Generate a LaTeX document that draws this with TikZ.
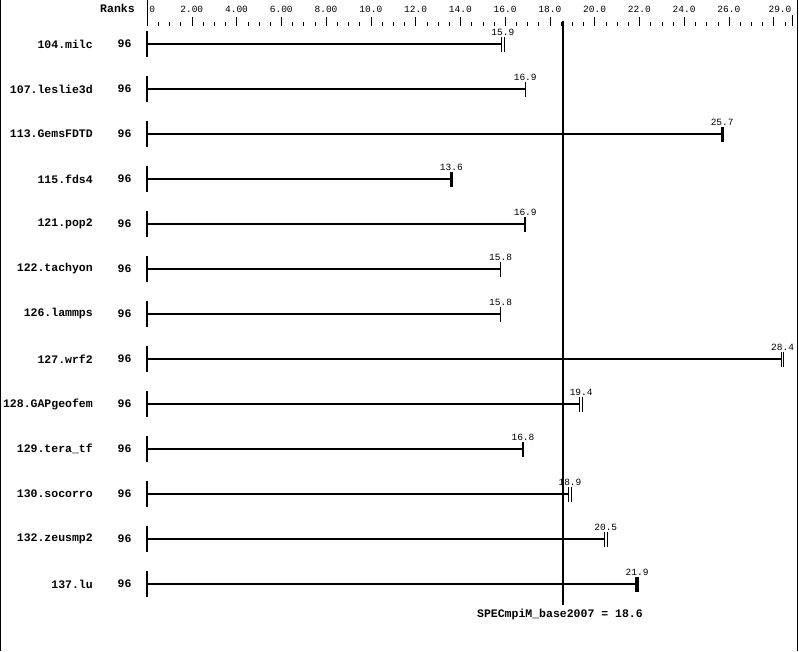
\documentclass[tikz,border=0pt]{standalone}
\usepackage{fontspec}
\setmonofont{Liberation Mono}
\tikzset{
  bench/.style={anchor=east, inner sep=0pt, font=\ttfamily\bfseries\fontsize{11.5}{12}\selectfont},
  ranks/.style={inner sep=0pt, font=\ttfamily\bfseries\fontsize{11.5}{12}\selectfont},
  val/.style={anchor=base, inner sep=0pt, font=\ttfamily\fontsize{9.5}{10}\selectfont},
  bar/.style={line width=2pt},
  tickone/.style={line width=1.1pt},
  tickmid/.style={line width=2.3pt},
  tickfat/.style={line width=3.3pt},
  tickdbl/.style={double, double distance=1.6pt, line width=1pt},
}
\begin{document}
\begin{tikzpicture}[x=1pt, y=-1pt]
   \useasboundingbox (0,0) rectangle (799,651);
   \fill[white] (0,0) rectangle (799,651);
   \draw[line width=1pt] (0.5,0) -- (0.5,651);
   \draw[line width=1pt] (797.5,0) -- (797.5,651);
   \node[ranks] (ranks) at (117.5,8) {Ranks};
   % benchmark names and rank counts
   \foreach \y/\name in {44/104.milc, 89/107.leslie3d, 134/113.GemsFDTD, 179/115.fds4,
         224/121.pop2, 269/122.tachyon, 314/126.lammps, 359/127.wrf2, 404/128.GAPgeofem,
         449/129.tera\_tf, 494/130.socorro, 539/132.zeusmp2, 584/137.lu} {
      \node[bench] (b\y) at (93,\y) {\name};
      \node[ranks] (r\y) at (124.5,\y) {96};
   }
   \begin{scope}[xshift=147pt, x=22.38pt]
   % axis
   \draw[line width=1pt] (0,0) -- (0,26);
   \foreach \t in {0.5,1,...,28.5} \draw (\t,22) -- (\t,26);
   \foreach \t in {2,4,...,28} \draw (\t,17) -- (\t,26);
   \draw (28.85,15) -- (28.85,26);
   \node[val, anchor=base west] (ax0) at (0.1,12) {0};
   \foreach \t/\l in {2/2.00, 4/4.00, 6/6.00, 8/8.00, 10/10.0, 12/12.0, 14/14.0,
         16/16.0, 18/18.0, 20/20.0, 22/22.0, 24/24.0, 26/26.0}
      \node[val] (ax\t) at (\t,12) {\l};
   \node[val, anchor=base east] (ax29) at (28.8,12) {29.0};
   % reference line
   \draw[bar] (18.6,21) -- (18.6,605);
   \node[ranks] (mean) at (18.45,615) {SPECmpiM\_base2007 = 18.6};
   % bars
   \foreach \y/\v/\kind in {44/15.9/tickdbl, 89/16.9/tickone, 134/25.7/tickfat,
         179/13.6/tickmid, 224/16.9/tickmid, 269/15.8/tickone, 314/15.8/tickone,
         359/28.4/tickdbl, 404/19.4/tickdbl, 449/16.8/tickone, 494/18.9/tickdbl,
         539/20.5/tickdbl, 584/21.9/tickfat} {
      \draw[tickone] (0,\y-13) -- (0,\y+13);
      \draw[bar] (0,\y) -- (\v,\y);
      \draw[\kind] (\v,\y-7.5) -- (\v,\y+7.5);
      \node[val] (v\y) at (\v,\y-9) {\v};
   }
   \end{scope}
\end{tikzpicture}
\end{document}
